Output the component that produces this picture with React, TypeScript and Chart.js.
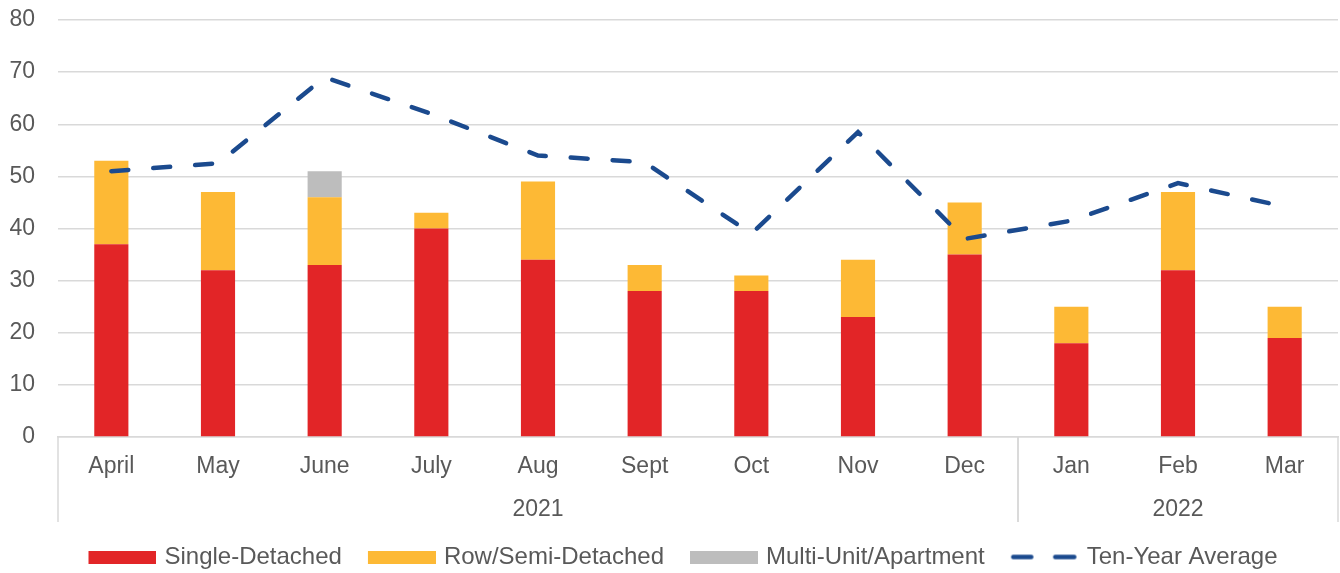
import React, { useEffect, useRef } from 'react';
import { Chart, registerables } from 'chart.js';

Chart.register(...registerables);

const months = ['April', 'May', 'June', 'July', 'Aug', 'Sept', 'Oct', 'Nov', 'Dec', 'Jan', 'Feb', 'Mar'];
const yearLabels = ['2021', '2022'];
const yearSpans = [9, 3];
const singleDetached = [37, 32, 33, 40, 34, 28, 28, 23, 35, 18, 32, 19];
const rowSemiDetached = [16, 15, 13, 3, 15, 5, 3, 11, 10, 7, 15, 6];
const multiUnit = [0, 0, 5, 0, 0, 0, 0, 0, 0, 0, 0, 0];
const tenYearAverage = [51, 52.5, 69, 62, 54, 52.7, 39, 58.5, 38, 41.5, 48.7, 44.2];
const yMin = 0;
const yMax = 80;
const yStep = 10;

const FONT = "'Liberation Sans', Arial, sans-serif";
const TEXT = '#595959';
const GRID = '#d9d9d9';
const RED = '#e22527';
const YELLOW = '#fdb935';
const GRAY = '#bdbdbd';
const BLUE = '#1b4a8e';
const DASH = [17, 25];
const LEGEND_SHIFT = 14;

function makeLegendIcon(color: string, isLine: boolean): HTMLCanvasElement {
  const c = document.createElement('canvas');
  c.width = 72;
  c.height = 13;
  const g = c.getContext('2d') as CanvasRenderingContext2D;
  if (isLine) {
    g.strokeStyle = color;
    g.lineWidth = 4.5;
    g.lineCap = 'round';
    g.beginPath();
    g.moveTo(4 + 2.5, 6.5);
    g.lineTo(4 + 20.5, 6.5);
    g.moveTo(4 + 44.5, 6.5);
    g.lineTo(4 + 63.5, 6.5);
    g.stroke();
  } else {
    g.fillStyle = color;
    g.fillRect(4, 0, 68, 13);
  }
  return c;
}

const groupPlugin = {
  id: 'yearGroups',
  afterLayout(chart: any) {
    if (chart.legend) {
      chart.legend.left += LEGEND_SHIFT;
      chart.legend.right += LEGEND_SHIFT;
    }
  },
  afterDraw(chart: any) {
    const x = chart.scales.x;
    const { ctx, chartArea } = chart;
    const half = (x.getPixelForValue(1) - x.getPixelForValue(0)) / 2;
    const top = chartArea.bottom;
    const bottom = top + 85;
    ctx.save();
    ctx.strokeStyle = GRID;
    ctx.lineWidth = 1.5;
    ctx.fillStyle = TEXT;
    ctx.font = `23px ${FONT}`;
    ctx.textAlign = 'center';
    ctx.textBaseline = 'middle';
    let idx = 0;
    yearSpans.forEach((span, i) => {
      const left = x.getPixelForValue(idx) - half;
      const right = x.getPixelForValue(idx + span - 1) + half;
      ctx.beginPath();
      ctx.moveTo(left, top);
      ctx.lineTo(left, bottom);
      ctx.moveTo(right, top);
      ctx.lineTo(right, bottom);
      ctx.stroke();
      ctx.fillText(yearLabels[i], (left + right) / 2, top + 73);
      idx += span;
    });
    ctx.restore();
  },
};

export default function App() {
  const ref = useRef<HTMLCanvasElement | null>(null);
  useEffect(() => {
    document.body.style.margin = '0';
    const canvas = ref.current;
    if (!canvas) return;
    const chart = new Chart(canvas, {
      type: 'bar',
      data: {
        labels: months,
        datasets: [
          {
            type: 'bar',
            label: 'Single-Detached',
            data: singleDetached,
            backgroundColor: RED,
            borderWidth: 0,
            order: 1,
          },
          {
            type: 'bar',
            label: 'Row/Semi-Detached',
            data: rowSemiDetached,
            backgroundColor: YELLOW,
            borderWidth: 0,
            order: 1,
          },
          {
            type: 'bar',
            label: 'Multi-Unit/Apartment',
            data: multiUnit,
            backgroundColor: GRAY,
            borderWidth: 0,
            order: 1,
          },
          {
            type: 'line',
            label: 'Ten-Year Average',
            data: tenYearAverage,
            borderColor: BLUE,
            backgroundColor: BLUE,
            borderWidth: 4.5,
            borderDash: DASH,
            borderCapStyle: 'round',
            pointRadius: 0,
            fill: false,
            tension: 0,
            stack: 'line',
            order: 0,
          } as any,
        ],
      },
      options: {
        animation: false,
        responsive: true,
        maintainAspectRatio: false,
        datasets: { bar: { barPercentage: 0.32, categoryPercentage: 1 } },
        layout: { padding: { left: 0, right: 2, top: 0, bottom: 0 } },
        scales: {
          x: {
            stacked: true,
            grid: { display: false, drawTicks: false },
            border: { display: true, color: GRID, width: 1.5 },
            ticks: {
              color: TEXT,
              font: { family: FONT, size: 23 },
              padding: 16,
              maxRotation: 0,
              autoSkip: false,
            },
            afterFit(scale: any) {
              scale.height = 82;
            },
          },
          y: {
            stacked: true,
            min: yMin,
            max: yMax,
            grid: { color: GRID, lineWidth: 1.5, drawTicks: false },
            border: { display: false },
            ticks: {
              stepSize: yStep,
              color: TEXT,
              font: { family: FONT, size: 23 },
              padding: 23,
            },
            afterFit(scale: any) {
              scale.width = 58;
              scale.paddingTop = 20;
              scale.paddingBottom = 14;
            },
          },
        },
        plugins: {
          tooltip: { enabled: false },
          legend: {
            position: 'bottom',
            labels: {
              usePointStyle: true,
              pointStyleWidth: 64,
              boxHeight: 13,
              padding: 26,
              color: TEXT,
              font: { family: FONT, size: 24 },
              generateLabels(ch: any) {
                return ch.data.datasets.map((ds: any, i: number) => {
                  const isLine = ds.type === 'line';
                  const color = isLine ? ds.borderColor : ds.backgroundColor;
                  return {
                    text: ds.label,
                    datasetIndex: i,
                    fontColor: TEXT,
                    hidden: false,
                    pointStyle: makeLegendIcon(color, isLine),
                    fillStyle: color,
                    strokeStyle: color,
                    lineWidth: 0,
                  };
                });
              },
            },
          },
        },
      },
      plugins: [groupPlugin],
    });
    return () => chart.destroy();
  }, []);

  return (
    <div style={{ width: 1340, height: 573, overflow: 'hidden', position: 'relative' }}>
      <div style={{ width: 1340, height: 579, position: 'relative' }}>
        <canvas ref={ref} />
      </div>
    </div>
  );
}
